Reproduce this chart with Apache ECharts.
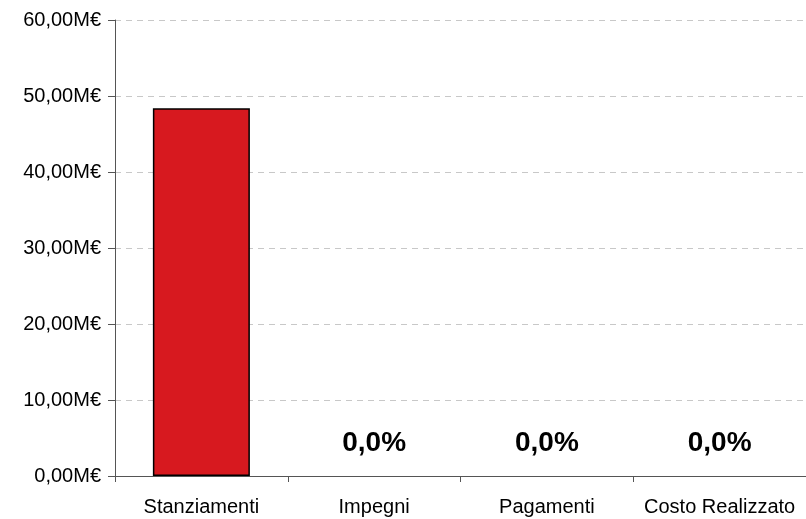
<!DOCTYPE html>
<html><head><meta charset="utf-8">
<script src="https://cdn.jsdelivr.net/npm/echarts@6/dist/echarts.min.js"></script>
<style>html,body{margin:0;padding:0;background:#fff}#c{width:806px;height:519px}</style>
</head><body><div id="c"></div>
<script>
const categories = ['Stanziamenti', 'Impegni', 'Pagamenti', 'Costo Realizzato'];
const values = [48.4, 0, 0, 0]; // milioni di euro
const percentLabels = ['', '0,0%', '0,0%', '0,0%'];

const FONT = 'Liberation Sans, Arial, sans-serif';
const chart = echarts.init(document.getElementById('c'));
chart.setOption({
  animation: false,
  grid: { left: 115, top: 20, right: -6, bottom: 43, containLabel: false },
  xAxis: {
    type: 'category', data: categories,
    axisLine: { lineStyle: { color: '#555', width: 1 } },
    axisTick: { show: true, length: 6, lineStyle: { color: '#555' } },
    axisLabel: { color: '#000', fontFamily: FONT, fontSize: 20, margin: 21, interval: 0 }
  },
  yAxis: {
    type: 'value', min: 0, max: 60, interval: 10,
    axisLine: { show: true, lineStyle: { color: '#555', width: 1 } },
    axisTick: { show: true, length: 7, lineStyle: { color: '#555' } },
    axisLabel: { color: '#000', fontFamily: FONT, fontSize: 20, margin: 14,
      formatter: v => v.toFixed(2).replace('.', ',') + 'M€' },
    splitLine: { show: true, lineStyle: { color: '#c8c8c8', type: [6, 5] } }
  },
  series: [{
    type: 'bar', barWidth: 97,
    data: values.map(v => ({ value: v, itemStyle: { borderWidth: v === 0 ? 0 : 1.5 } })),
    itemStyle: { color: '#d7191f', borderColor: '#000', borderWidth: 1.5 },
    label: {
      show: true, position: 'top', distance: 19,
      formatter: p => percentLabels[p.dataIndex],
      fontFamily: FONT, fontSize: 28, fontWeight: 'bold', color: '#000'
    }
  }]
});
</script></body></html>
